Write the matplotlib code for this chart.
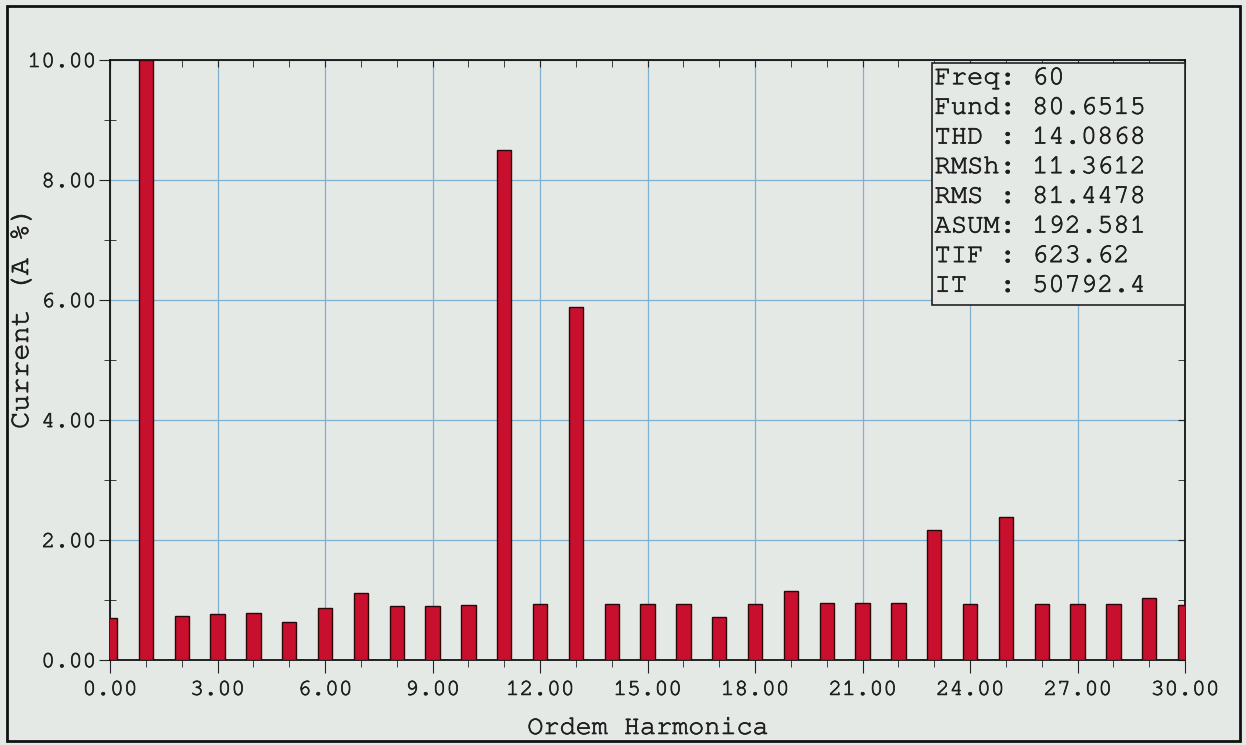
import numpy as np
import matplotlib
matplotlib.use("Agg")
import matplotlib.pyplot as plt
import matplotlib.patheffects as pe
from matplotlib.ticker import MultipleLocator, FormatStrFormatter
from matplotlib.patches import Rectangle
from matplotlib import font_manager

# DADOS
harmonicas = list(range(0, 31))
corrente = [0.70, 10.00, 0.73, 0.77, 0.79, 0.64, 0.86, 1.12, 0.90, 0.90,
            0.91, 8.50, 0.94, 5.88, 0.93, 0.94, 0.94, 0.72, 0.94, 1.15,
            0.95, 0.95, 0.95, 2.16, 0.94, 2.38, 0.93, 0.93, 0.93, 1.03,
            0.92]

info_nomes = ["Freq", "Fund", "THD ", "RMSh", "RMS ", "ASUM", "TIF ", "IT  "]
info_valores = ["60", "80.6515", "14.0868", "11.3612", "81.4478",
                "192.581", "623.62", "50792.4"]

fundo = "#e4e9e6"
cor_texto = "#1e1e1e"
# fonte tipo Courier se existir
instaladas = set(f.name for f in font_manager.fontManager.ttflist)
candidatas = ["Courier New", "Nimbus Mono PS", "FreeMono", "Liberation Mono",
              "DejaVu Sans Mono"]
fonte = [f for f in candidatas if f in instaladas] or ["monospace"]
plt.rcParams["font.family"] = fonte
grosso = [pe.withStroke(linewidth=0.5, foreground=cor_texto)]

fig = plt.figure(figsize=(12.46, 7.45), dpi=100, facecolor=fundo)
ax = fig.add_axes([0.0883, 0.114, 0.8628, 0.8055])
ax.set_facecolor(fundo)

ax.bar(harmonicas, corrente, width=0.4, color="#c8102e",
       edgecolor="#2a0808", linewidth=1.0, zorder=3)

ax.set_xlim(0, 30)
ax.set_ylim(0, 10)
ax.xaxis.set_major_locator(MultipleLocator(3))
ax.xaxis.set_minor_locator(MultipleLocator(1))
ax.yaxis.set_major_locator(MultipleLocator(2))
ax.yaxis.set_minor_locator(MultipleLocator(1))
ax.xaxis.set_major_formatter(FormatStrFormatter("%.2f"))
ax.yaxis.set_major_formatter(FormatStrFormatter("%.2f"))

ax.grid(True, which="major", color="#7fb0cf", linewidth=0.9, zorder=0)

ax.tick_params(axis="x", which="major", direction="out", length=9,
               top=True, labelsize=16.5, pad=6, color="#222222",
               labelcolor=cor_texto)
ax.tick_params(axis="x", which="minor", direction="out", length=5,
               top=True, color="#222222")
ax.tick_params(axis="y", which="major", direction="out", length=8,
               right=True, labelsize=16.5, pad=2, color="#222222",
               labelcolor=cor_texto)
ax.tick_params(axis="y", which="minor", direction="inout", length=8,
               right=True, color="#222222")
# ticks de cima e da direita para dentro
for t in ax.xaxis.get_major_ticks() + ax.xaxis.get_minor_ticks():
    t.tick2line.set_marker(3)
    t.tick2line.set_markersize(5)
for t in ax.yaxis.get_major_ticks() + ax.yaxis.get_minor_ticks():
    t.tick2line.set_marker(0)
    t.tick2line.set_markersize(5)
for lab in ax.get_xticklabels() + ax.get_yticklabels():
    lab.set_path_effects(grosso)

for s in ax.spines.values():
    s.set_color("#111111")
    s.set_linewidth(1.3)

ax.set_xlabel("Ordem Harmonica", fontsize=19.3, labelpad=13, color=cor_texto,
              path_effects=grosso)
fig.text(22 / 1246, 1 - 318 / 745, "Current (A %)", rotation=90,
         fontsize=20.5, ha="center", va="center", color=cor_texto,
         path_effects=grosso)

# caixa de informacao
ax.add_patch(Rectangle((0.7647, 0.592), 0.2353, 0.403, transform=ax.transAxes,
                       facecolor=fundo, edgecolor="#222222", linewidth=1.2,
                       zorder=5, clip_on=False))
linhas = [n + ": " + v for n, v in zip(info_nomes, info_valores)]
ax.text(0.767, 0.988, "\n".join(linhas), transform=ax.transAxes,
        fontsize=19.5, va="top", ha="left", linespacing=1.45, zorder=6,
        color=cor_texto, path_effects=grosso)

# moldura externa
fig.patches.append(Rectangle((0.006, 0.005), 0.989, 0.987,
                             transform=fig.transFigure, fill=False,
                             edgecolor="#111111", linewidth=2.0))

plt.savefig("out.png", dpi=100, facecolor=fundo)
